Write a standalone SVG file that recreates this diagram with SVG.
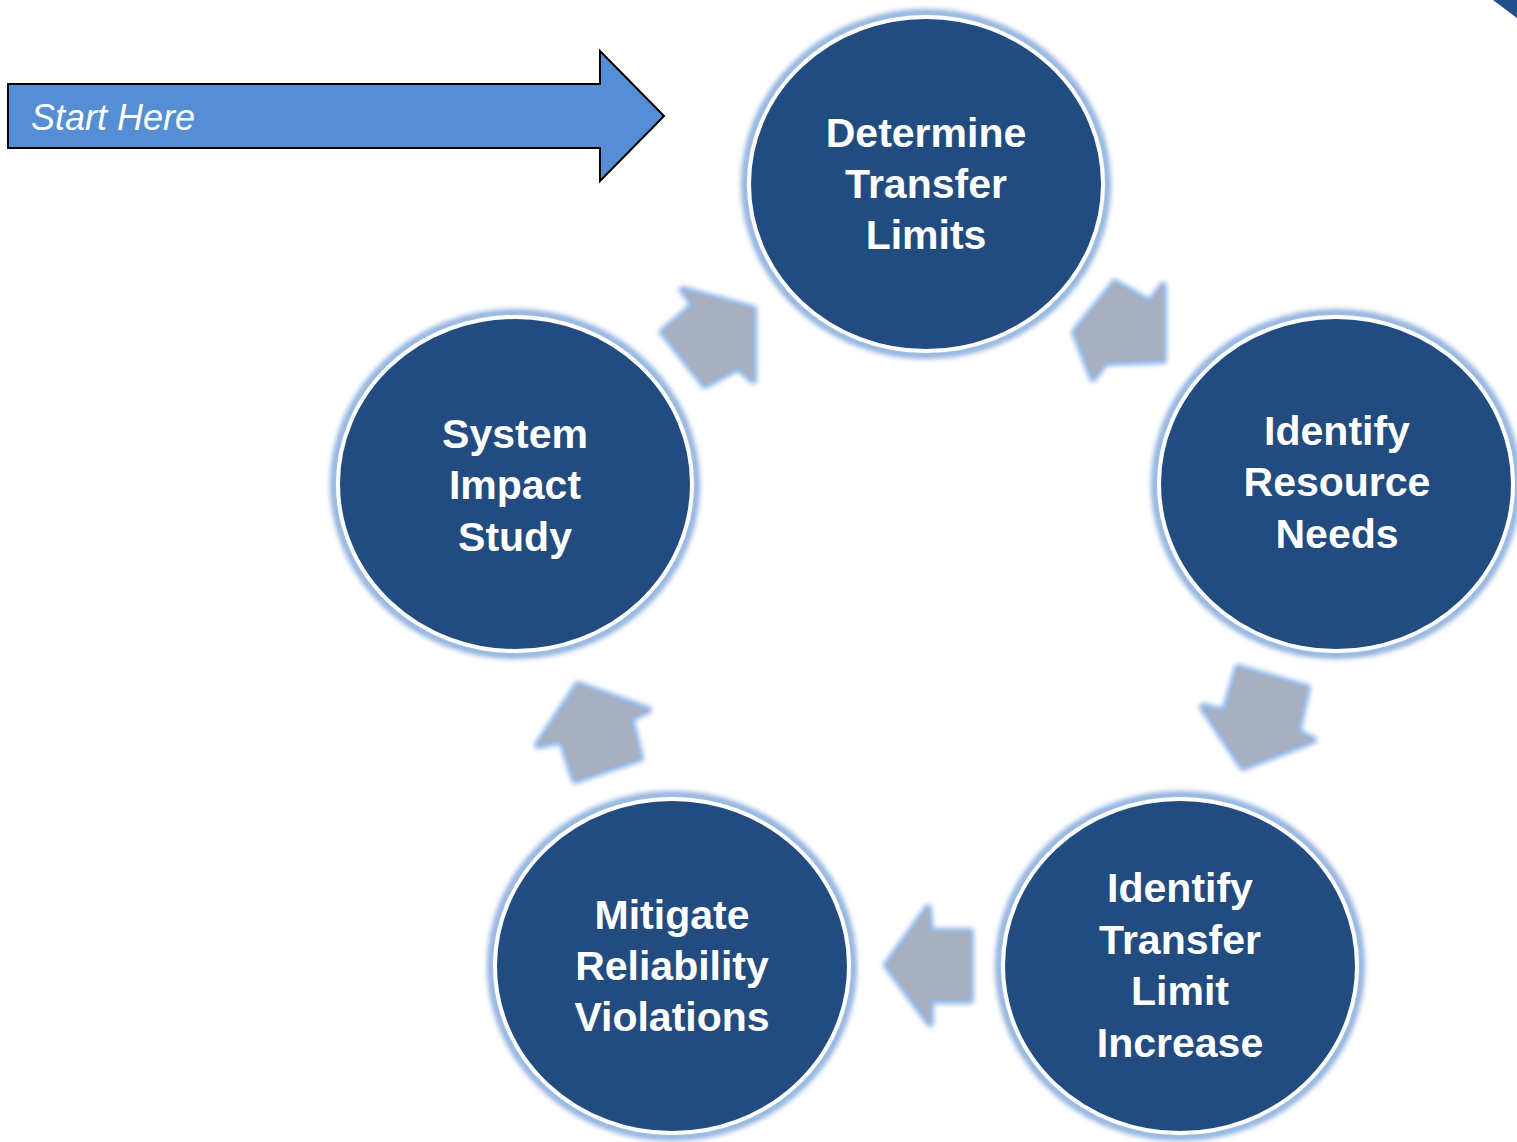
<svg xmlns="http://www.w3.org/2000/svg" width="1517" height="1142" viewBox="0 0 1517 1142">
<defs>
<filter id="glow" x="-20%" y="-20%" width="140%" height="140%"><feGaussianBlur stdDeviation="2.5"/></filter>
<style>
.halo{fill:none;stroke:#8FB1DE;stroke-width:8;filter:url(#glow)}
.disc{fill:#224C7F;stroke:#FFFFFF;stroke-width:4}
.lbl{font-family:"Liberation Sans",Arial,sans-serif;font-weight:bold;font-size:41px;fill:#FFFFFF;text-anchor:middle}
.ahalo{fill:#8FB4E3;stroke:#8FB4E3;stroke-width:8;stroke-linejoin:round;filter:url(#glow)}
.abody{fill:#A8AFC0}
</style>
</defs>
<rect width="1517" height="1142" fill="#FFFFFF"/>
<polygon points="1493,0 1517,0 1517,18" fill="#1F4E8A"/>
<g id="start">
<polygon points="8,84 600,84 600,51 664,116 600,181 600,148 8,148" fill="#558ED5" stroke="#000000" stroke-width="2"/>
<text x="31" y="130" font-family="Liberation Sans,Arial,sans-serif" font-style="italic" font-size="36" fill="#FFFFFF">Start Here</text>
</g>
<g id="connectors">
<g id="a1"><polygon class="ahalo" points="683,290 753,309 753,380 738,367 705,385 663,332 694,305"/><polygon class="abody" points="683,290 753,309 753,380 738,367 705,385 663,332 694,305"/></g>
<g id="a2"><polygon class="ahalo" points="1115,283 1150,303 1163,286 1163,360 1105,362 1093,378 1075,332"/><polygon class="abody" points="1115,283 1150,303 1163,286 1163,360 1105,362 1093,378 1075,332"/></g>
<g id="a3"><polygon class="ahalo" points="1238,668 1307,688 1297,732 1313,740 1243,767 1203,707 1225,712"/><polygon class="abody" points="1238,668 1307,688 1297,732 1313,740 1243,767 1203,707 1225,712"/></g>
<g id="a4"><polygon class="ahalo" points="970,932 970,1000 930,1000 930,1023 887,965 928,908 930,932"/><polygon class="abody" points="970,932 970,1000 930,1000 930,1023 887,965 928,908 930,932"/></g>
<g id="a5"><polygon class="ahalo" points="578,685 648,710 630,718 640,758 575,780 562,740 538,745"/><polygon class="abody" points="578,685 648,710 630,718 640,758 575,780 562,740 538,745"/></g>
</g>
<g id="n1">
<ellipse class="halo" cx="926" cy="184" rx="181" ry="171"/>
<ellipse class="disc" cx="926" cy="184" rx="177" ry="167"/>
<text class="lbl" x="926" y="147">Determine</text>
<text class="lbl" x="926" y="198">Transfer</text>
<text class="lbl" x="926" y="249">Limits</text>
</g>
<g id="n2">
<ellipse class="halo" cx="1336" cy="484" rx="181" ry="171"/>
<ellipse class="disc" cx="1336" cy="484" rx="177" ry="167"/>
<text class="lbl" x="1337" y="445">Identify</text>
<text class="lbl" x="1337" y="496">Resource</text>
<text class="lbl" x="1337" y="548">Needs</text>
</g>
<g id="n3">
<ellipse class="halo" cx="515" cy="484" rx="181" ry="171"/>
<ellipse class="disc" cx="515" cy="484" rx="177" ry="167"/>
<text class="lbl" x="515" y="448">System</text>
<text class="lbl" x="515" y="499">Impact</text>
<text class="lbl" x="515" y="551">Study</text>
</g>
<g id="n4">
<ellipse class="halo" cx="672" cy="966" rx="181" ry="171"/>
<ellipse class="disc" cx="672" cy="966" rx="177" ry="167"/>
<text class="lbl" x="672" y="929">Mitigate</text>
<text class="lbl" x="672" y="980">Reliability</text>
<text class="lbl" x="672" y="1031">Violations</text>
</g>
<g id="n5">
<ellipse class="halo" cx="1180" cy="966" rx="181" ry="171"/>
<ellipse class="disc" cx="1180" cy="966" rx="177" ry="167"/>
<text class="lbl" x="1180" y="902">Identify</text>
<text class="lbl" x="1180" y="954">Transfer</text>
<text class="lbl" x="1180" y="1005">Limit</text>
<text class="lbl" x="1180" y="1057">Increase</text>
</g>
</svg>
